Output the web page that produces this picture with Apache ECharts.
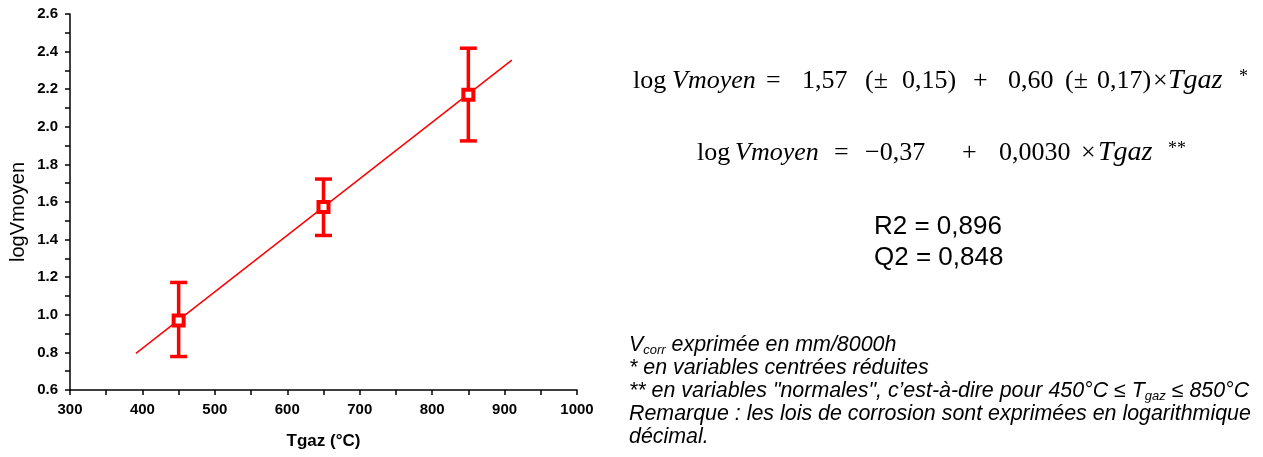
<!DOCTYPE html>
<html>
<head>
<meta charset="utf-8">
<script src="https://cdn.jsdelivr.net/npm/echarts@6/dist/echarts.min.js"></script>
<style>
html,body{margin:0;padding:0;background:#fff;}
#chart{width:1263px;height:457px;}
</style>
</head>
<body>
<div id="chart"></div>
<script>
// ---- data ----
var tgaz = [450, 650, 850];
var logV = [0.97, 1.573, 2.17];
var errLow = [0.778, 1.422, 1.925];
var errHigh = [1.172, 1.722, 2.418];
var fitX = [391, 910];
var fitY = [0.795, 2.355];
var xTicks = {min: 300, max: 1000, step: 100};
var yTicks = {min: 0.6, max: 2.6, step: 0.2};

var RED = '#ff0000';
var SANS = "'Liberation Sans', Arial, sans-serif";
var SERIF = "'Liberation Serif', 'Times New Roman', serif";

var points = tgaz.map(function (x, i) { return [x, logV[i]]; });
var bars = tgaz.map(function (x, i) { return [x, errLow[i], errHigh[i]]; });
var fitLine = fitX.map(function (x, i) { return [x, fitY[i]]; });

// equation tokens: [text, x, italic, kind]
function eqTokens(list, baseY, fs) {
  return list.map(function (t) {
    var sup = t[3] === 'sup';
    var size = sup ? 18 : (t[3] === 'big' ? 28 : fs);
    return {
      type: 'text',
      left: t[1],
      top: sup ? baseY - fs * 0.9 : baseY - size * 0.9,
      style: {
        text: t[0],
        fill: '#000',
        font: (t[2] ? 'italic ' : '') + size + 'px ' + SERIF
      }
    };
  });
}
var eq1 = [
  ['log', 633, false], ['Vmoyen', 672, true], ['=', 766, false], ['1,57', 802, false],
  ['(\u00b1', 865, false], ['0,15)', 902, false], ['+', 973, false], ['0,60', 1008, false],
  ['(\u00b1', 1065, false], ['0,17)', 1097, false], ['\u00d7', 1153, false],
  ['Tgaz', 1168, true, 'big'], ['*', 1239, false, 'sup']
];
var eq2 = [
  ['log', 697, false], ['Vmoyen', 735, true], ['=', 834, false], ['\u22120,37', 865, false],
  ['+', 962, false], ['0,0030', 999, false], ['\u00d7', 1081, false],
  ['Tgaz', 1098, true, 'big'], ['**', 1168, false, 'sup']
];

var noteRich = {
  n: {fontSize: 21.4, fontStyle: 'italic', fontFamily: SANS, lineHeight: 22.8, color: '#000'},
  s: {fontSize: 13, fontStyle: 'italic', fontFamily: SANS, lineHeight: 12, verticalAlign: 'bottom', color: '#000'}
};

var graphics = eqTokens(eq1, 92, 26).concat(eqTokens(eq2, 164, 26)).concat([
  {type: 'text', left: 874, top: 214, style: {text: 'R2 = 0,896', font: '26px ' + SANS, fill: '#000'}},
  {type: 'text', left: 874, top: 245, style: {text: 'Q2 = 0,848', font: '26px ' + SANS, fill: '#000'}},
  {type: 'text', left: 629, top: 335, style: {
    text: '{n|V}{s|corr}{n| exprim\u00e9e en mm/8000h}\n' +
          '{n|* en variables centr\u00e9es r\u00e9duites}\n' +
          '{n|** en variables "normales", c\u2019est-\u00e0-dire pour 450\u00b0C \u2264 T}{s|gaz}{n| \u2264 850\u00b0C}\n' +
          '{n|Remarque : les lois de corrosion sont exprim\u00e9es en logarithmique}\n' +
          '{n|d\u00e9cimal.}',
    rich: noteRich
  }},
  {type: 'text', x: 18, y: 212, rotation: Math.PI / 2, style: {
    text: 'logVmoyen', font: '20px ' + SANS, fill: '#000', align: 'center', verticalAlign: 'middle'
  }}
]);

var chart = echarts.init(document.getElementById('chart'));
chart.setOption({
  backgroundColor: '#fff',
  animation: false,
  grid: {left: 70, top: 14, width: 507, height: 376, containLabel: false},
  xAxis: {
    type: 'value', min: xTicks.min, max: xTicks.max, interval: xTicks.step,
    name: 'Tgaz (\u00b0C)', nameLocation: 'middle', nameGap: 43,
    nameTextStyle: {fontSize: 17, fontWeight: 'bold', fontFamily: SANS, color: '#000'},
    axisLine: {lineStyle: {color: '#000', width: 1.5}},
    axisTick: {length: 5, lineStyle: {color: '#000', width: 1.5}},
    minorTick: {show: true, splitNumber: 2, length: 5, lineStyle: {color: '#000', width: 1.5}},
    axisLabel: {fontSize: 15, fontWeight: 'bold', fontFamily: SANS, color: '#000', margin: 12,
      formatter: function (v) { return String(v); }},
    splitLine: {show: false}
  },
  yAxis: {
    type: 'value', min: yTicks.min, max: yTicks.max, interval: yTicks.step,
    axisLine: {lineStyle: {color: '#000', width: 1.5}},
    axisTick: {length: 5, lineStyle: {color: '#000', width: 1.5}},
    minorTick: {show: true, splitNumber: 2, length: 5, lineStyle: {color: '#000', width: 1.5}},
    axisLabel: {fontSize: 15, fontWeight: 'bold', fontFamily: SANS, color: '#000', margin: 12,
      formatter: function (v) { return v.toFixed(1); }},
    splitLine: {show: false}
  },
  graphic: graphics,
  series: [
    {
      type: 'line', data: fitLine, showSymbol: false, symbol: 'none', z: 1,
      lineStyle: {color: RED, width: 1.5}
    },
    {
      type: 'custom', z: 2, data: bars,
      renderItem: function (params, api) {
        var x = api.value(0);
        var lo = api.coord([x, api.value(1)]);
        var hi = api.coord([x, api.value(2)]);
        var hw = 8.5;
        var st = {stroke: RED, lineWidth: 3.5};
        return {
          type: 'group',
          children: [
            {type: 'line', shape: {x1: lo[0], y1: lo[1], x2: hi[0], y2: hi[1]}, style: st},
            {type: 'line', shape: {x1: lo[0] - hw, y1: lo[1], x2: lo[0] + hw, y2: lo[1]}, style: st},
            {type: 'line', shape: {x1: hi[0] - hw, y1: hi[1], x2: hi[0] + hw, y2: hi[1]}, style: st}
          ]
        };
      }
    },
    {
      type: 'scatter', data: points, z: 3, symbol: 'rect', symbolSize: 10,
      itemStyle: {color: '#fff', borderColor: RED, borderWidth: 4, opacity: 1}
    }
  ]
});
</script>
</body>
</html>
